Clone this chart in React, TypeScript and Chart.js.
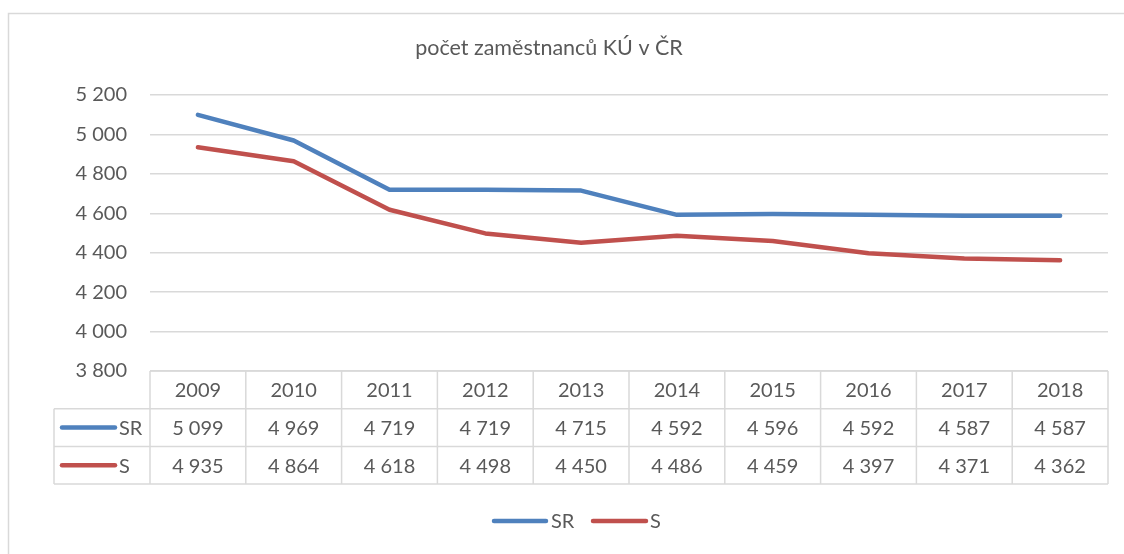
import React, { useEffect, useRef } from "react";
import { Chart, registerables } from "chart.js";

Chart.register(...registerables);

const TITLE = "počet zaměstnanců KÚ v ČR";
const years = ["2009", "2010", "2011", "2012", "2013", "2014", "2015", "2016", "2017", "2018"];
const seriesNames = ["SR", "S"];
const srValues = [5099, 4969, 4719, 4719, 4715, 4592, 4596, 4592, 4587, 4587];
const sValues = [4935, 4864, 4618, 4498, 4450, 4486, 4459, 4397, 4371, 4362];
const colors = ["#4F81BD", "#C0504D"];
const yMin = 3800;
const yMax = 5200;
const yStep = 200;

const FONT = "Lato, 'Noto Sans', sans-serif";
const TEXT = "#595959";
const GRID = "#d9d9d9";
const FS = 20;

const fmt = (v: number) => {
  const s = Math.round(v).toString();
  return s.replace(/\B(?=(\d{3})+(?!\d))/g, " ");
};

const tablePlugin = {
  id: "excelTable",
  afterDraw(chart: any) {
    const ctx = chart.ctx as CanvasRenderingContext2D;
    const area = chart.chartArea;
    const x = chart.scales.x;
    const n = years.length;
    const colW = (area.right - area.left) / n;
    const top = area.bottom;
    const rowH = 37.7;
    const headerLeft = 54;
    ctx.save();

    // outer border
    ctx.strokeStyle = GRID;
    ctx.lineWidth = 1.5;
    ctx.beginPath();
    ctx.moveTo(8.5, 560);
    ctx.lineTo(8.5, 13.5);
    ctx.lineTo(1130, 13.5);
    ctx.stroke();

    // title
    ctx.fillStyle = TEXT;
    ctx.font = `21.5px ${FONT}`;
    ctx.textAlign = "center";
    ctx.textBaseline = "middle";
    ctx.fillText(TITLE, 549, 48);

    // table grid
    ctx.strokeStyle = GRID;
    ctx.lineWidth = 1.5;
    ctx.beginPath();
    ctx.moveTo(area.left, top);
    ctx.lineTo(area.right, top);
    for (let r = 1; r <= 3; r++) {
      const yy = top + r * rowH;
      ctx.moveTo(headerLeft, yy);
      ctx.lineTo(area.right, yy);
    }
    for (let c = 0; c <= n; c++) {
      const xx = area.left + c * colW;
      ctx.moveTo(xx, top);
      ctx.lineTo(xx, top + 3 * rowH);
    }
    ctx.moveTo(headerLeft, top + rowH);
    ctx.lineTo(headerLeft, top + 3 * rowH);
    ctx.stroke();

    // header text
    ctx.fillStyle = TEXT;
    ctx.font = `${FS}px ${FONT}`;
    ctx.textAlign = "center";
    ctx.textBaseline = "middle";
    years.forEach((yr, i) => {
      const cx = x.getPixelForValue(i);
      ctx.fillText(yr, cx, top + rowH / 2 + 1);
    });
    const rows = [srValues, sValues];
    rows.forEach((vals, r) => {
      const cy = top + (r + 1) * rowH + rowH / 2 + 1;
      vals.forEach((v, i) => {
        ctx.fillText(fmt(v), x.getPixelForValue(i), cy);
      });
      ctx.strokeStyle = colors[r];
      ctx.lineWidth = 4.5;
      ctx.lineCap = "round";
      ctx.beginPath();
      ctx.moveTo(62, cy - 1);
      ctx.lineTo(115, cy - 1);
      ctx.stroke();
      ctx.textAlign = "left";
      ctx.fillText(seriesNames[r], 119, cy);
      ctx.textAlign = "center";
    });

    // bottom legend
    const ly = 521;
    const items = [
      { x0: 494, x1: 546, tx: 551 },
      { x0: 593, x1: 646, tx: 650 },
    ];
    items.forEach((it, r) => {
      ctx.strokeStyle = colors[r];
      ctx.lineWidth = 4.5;
      ctx.lineCap = "round";
      ctx.beginPath();
      ctx.moveTo(it.x0, ly);
      ctx.lineTo(it.x1, ly);
      ctx.stroke();
      ctx.fillStyle = TEXT;
      ctx.textAlign = "left";
      ctx.fillText(seriesNames[r], it.tx, ly + 1);
    });
    ctx.restore();
  },
};

export default function App() {
  const ref = useRef<HTMLCanvasElement | null>(null);
  useEffect(() => {
    if (!ref.current) return;
    const chart = new Chart(ref.current, {
      type: "line",
      data: {
        labels: years,
        datasets: [
          {
            label: seriesNames[0],
            data: srValues,
            borderColor: colors[0],
            backgroundColor: colors[0],
            borderWidth: 4.5,
            pointRadius: 0,
            tension: 0,
            borderCapStyle: "round",
            borderJoinStyle: "round",
          },
          {
            label: seriesNames[1],
            data: sValues,
            borderColor: colors[1],
            backgroundColor: colors[1],
            borderWidth: 4.5,
            pointRadius: 0,
            tension: 0,
            borderCapStyle: "round",
            borderJoinStyle: "round",
          },
        ],
      },
      options: {
        animation: false,
        responsive: false,
        maintainAspectRatio: false,
        layout: { padding: { left: 0, right: 16, top: 95, bottom: 183 } },
        plugins: {
          legend: { display: false },
          title: { display: false },
          tooltip: { enabled: false },
        },
        scales: {
          x: {
            type: "category",
            offset: true,
            display: false,
          },
          y: {
            min: yMin,
            max: yMax,
            afterFit: (scale: any) => {
              scale.width = 150;
            },
            border: { display: false },
            grid: { color: GRID, lineWidth: 1.5, drawTicks: false },
            ticks: {
              stepSize: yStep,
              padding: 23,
              color: TEXT,
              font: { family: FONT, size: FS },
              callback: (v: any) => fmt(Number(v)),
            },
          },
        },
      },
      plugins: [tablePlugin],
    });
    return () => chart.destroy();
  }, []);
  return (
    <div style={{ position: "fixed", left: 0, top: 0, width: 1124, height: 554, background: "#fff" }}>
      <canvas ref={ref} width={1124} height={554} style={{ display: "block" }} />
    </div>
  );
}
